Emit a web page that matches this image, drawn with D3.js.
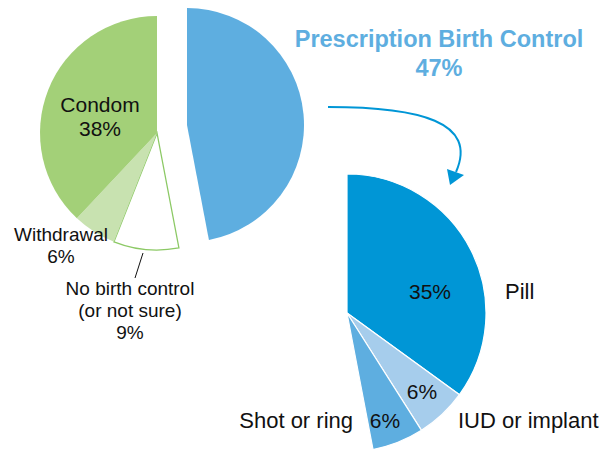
<!DOCTYPE html>
<html>
<head>
<meta charset="utf-8">
<script src="https://cdn.jsdelivr.net/npm/d3@7"></script>
<style>
  body { margin: 0; background: #fff; }
  svg text { font-family: "Liberation Sans", Arial, sans-serif; fill: #111; }
</style>
</head>
<body>
<svg id="chart" width="608" height="451"></svg>
<script>
// main split of methods (percent)
const mainLabels = ['Prescription Birth Control', 'No birth control (or not sure)', 'Withdrawal', 'Condom'];
const mainValues = [47, 9, 6, 38];
const mainColors = ['#5eaee0', '#ffffff', '#c8e2b0', '#a3d078'];

// breakdown of prescription methods (percent of all)
const rxLabels = ['Pill', 'IUD or implant', 'Shot or ring'];
const rxValues = [35, 6, 6];
const rxColors = ['#0096d6', '#a6cdec', '#5eaee0'];

const svg = d3.select('#chart');
const total = d3.sum(mainValues);

// left pie
const leftCenter = [157, 133];
const leftR = 117;
const blueShift = [30, -8];

let mainPie = d3.pie().sort(null).value(d => d);
let mainArcs = mainPie(mainValues);
let arcL = d3.arc().innerRadius(0).outerRadius(leftR);

let left = svg.append('g')
    .attr('transform', 'translate(' + leftCenter[0] + ',' + leftCenter[1] + ')');

left.selectAll('.slice')
    .data(mainArcs)
    .enter().append('path')
    .attr('class', 'slice')
    .attr('transform', (d, i) => i === 0 ? 'translate(' + blueShift[0] + ',' + blueShift[1] + ')' : null)
    .attr('d', arcL)
    .style('fill', (d, i) => mainColors[i])
    .style('stroke', (d, i) => i === 1 ? '#8cc965' : 'none')
    .style('stroke-width', 1.3);

// condom label inside
left.append('text')
    .attr('x', -57).attr('y', -21)
    .attr('text-anchor', 'middle')
    .style('font-size', '21px')
    .text(mainLabels[3]);
left.append('text')
    .attr('x', -57).attr('y', 3)
    .attr('text-anchor', 'middle')
    .style('font-size', '21px')
    .text(mainValues[3] + '%');

// withdrawal label
let wd = svg.append('text')
    .attr('text-anchor', 'middle')
    .style('font-size', '19px');
wd.append('tspan').attr('x', 61).attr('y', 241).text(mainLabels[2]);
wd.append('tspan').attr('x', 61).attr('y', 263).text(mainValues[2] + '%');

// no birth control label + leader
let nb = svg.append('text')
    .attr('text-anchor', 'middle')
    .style('font-size', '19px');
nb.append('tspan').attr('x', 130).attr('y', 295).text('No birth control');
nb.append('tspan').attr('x', 130).attr('y', 317).text('(or not sure)');
nb.append('tspan').attr('x', 130).attr('y', 339).text(mainValues[1] + '%');

svg.append('line')
    .attr('x1', 143).attr('y1', 253)
    .attr('x2', 135).attr('y2', 278)
    .style('stroke', '#111')
    .style('stroke-width', 1);

// title for the prescription slice
let title = svg.append('text')
    .attr('text-anchor', 'middle')
    .style('font-size', '23.5px')
    .style('font-weight', 'bold');
title.append('tspan').attr('x', 439).attr('y', 47).style('fill', '#5eaee0').text(mainLabels[0]);
title.append('tspan').attr('x', 439).attr('y', 76).style('fill', '#5eaee0').text(mainValues[0] + '%');

// arrow
svg.append('path')
    .attr('d', 'M328,107 C420,107 478,122 456,172')
    .style('fill', 'none')
    .style('stroke', '#0096d6')
    .style('stroke-width', 2);
svg.append('path')
    .attr('d', 'M450,185 L447,169 L464,175 Z')
    .style('fill', '#0096d6');

// right pie - same angular scale as left
const rightCenter = [347, 313];
const rightR = 139;

let rxPie = d3.pie().sort(null).value(d => d)
    .startAngle(0)
    .endAngle(2 * Math.PI * d3.sum(rxValues) / total);
let rxArcs = rxPie(rxValues);
let arcR = d3.arc().innerRadius(0).outerRadius(rightR);

let right = svg.append('g')
    .attr('transform', 'translate(' + rightCenter[0] + ',' + rightCenter[1] + ')');

right.selectAll('.slice')
    .data(rxArcs)
    .enter().append('path')
    .attr('class', 'slice')
    .attr('d', arcR)
    .style('fill', (d, i) => rxColors[i])
    .style('stroke', '#fff')
    .style('stroke-width', 1.2);

// values inside the slices
let valuePos = [[83, -14], [75, 86], [38, 115]];
right.selectAll('.val')
    .data(rxArcs)
    .enter().append('text')
    .attr('class', 'val')
    .attr('x', (d, i) => valuePos[i][0])
    .attr('y', (d, i) => valuePos[i][1])
    .attr('text-anchor', 'middle')
    .style('font-size', '21px')
    .text(d => d.value + '%');

// outside names
let namePos = [[158, -14, 'start'], [111, 115, 'start'], [6, 115, 'end']];
right.selectAll('.name')
    .data(rxLabels)
    .enter().append('text')
    .attr('class', 'name')
    .attr('x', (d, i) => namePos[i][0])
    .attr('y', (d, i) => namePos[i][1])
    .attr('text-anchor', (d, i) => namePos[i][2])
    .style('font-size', '22px')
    .text(d => d);
</script>
</body>
</html>
